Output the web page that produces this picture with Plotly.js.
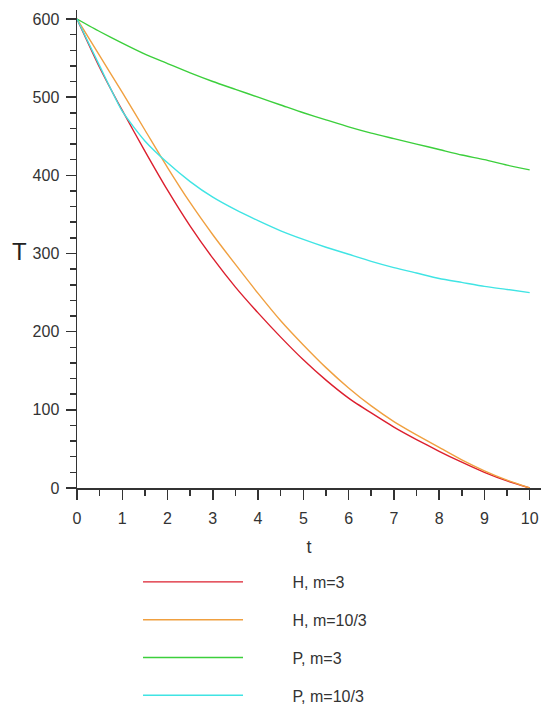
<!DOCTYPE html>
<html>
<head>
<meta charset="utf-8">
<script src="https://cdn.plot.ly/plotly-3.0.1.min.js"></script>
<style>html,body{margin:0;padding:0;background:#fff;}#chart{width:542px;height:713px;}</style>
</head>
<body>
<div id="chart"></div>
<script>
var tValues = [0, 0.5, 1, 1.5, 2, 2.5, 3, 3.5, 4, 4.5, 5, 5.5, 6, 6.5, 7, 7.5, 8, 8.5, 9, 9.5, 10];
var seriesNames = ['H, m=3', 'H, m=10/3', 'P, m=3', 'P, m=10/3'];
var H_m3   = [600, 538, 483, 431, 381, 335, 294, 257, 224, 193, 164, 138, 115, 96, 78, 62, 47, 33, 20, 9, 0];
var H_m103 = [600, 553, 506, 458, 410, 365, 324, 286, 249, 214, 183, 154, 128, 105, 85, 68, 52, 36, 22, 10, 0];
var P_m3   = [600, 584, 569, 555, 543, 531, 520, 510, 500, 490, 480, 471, 462, 454, 447, 440, 433, 426, 420, 413, 407];
var P_m103 = [600, 540, 482, 444, 416, 392, 372, 356, 342, 329, 318, 308, 299, 290, 282, 275, 268, 263, 258, 254, 250];
var seriesColors = ['#dc1f2e', '#f0a040', '#3ccf3c', '#40e4e4'];
var xTicks = [0,1,2,3,4,5,6,7,8,9,10];
var yTicks = [0,100,200,300,400,500,600];

var pad = '\u00a0\u00a0\u00a0\u00a0\u00a0\u00a0\u00a0\u00a0\u00a0\u00a0';
var ys = [H_m3, H_m103, P_m3, P_m103];
var traces = ys.map(function(y, i){
  return {x: tValues, y: y, type: 'scatter', mode: 'lines', name: pad + seriesNames[i],
    legendgroup: 'g' + i, line: {color: seriesColors[i], width: 1.4, shape: 'spline', smoothing: 0.6}};
});

var axFont = {family: 'Liberation Sans, Arial, sans-serif', size: 16, color: '#333'};
var layout = {
  width: 542, height: 713,
  margin: {l: 77, r: 1, t: 10, b: 224},
  paper_bgcolor: '#fff', plot_bgcolor: '#fff',
  showlegend: true,
  legend: {xref: 'paper', yref: 'paper', x: 0.1315, y: -0.160, xanchor: 'left', yanchor: 'top',
    font: {family: 'Liberation Sans, Arial, sans-serif', size: 16, color: '#333'},
    traceorder: 'grouped', tracegroupgap: 14, itemwidth: 100, bgcolor: 'rgba(0,0,0,0)'},
  xaxis: {range: [0, 10.25], tickvals: xTicks, ticktext: xTicks.map(String), ticks: 'outside', ticklen: 10,
    tickwidth: 1.5, tickcolor: '#333', showline: true, linecolor: '#333', linewidth: 1.5, showgrid: false,
    zeroline: false, tickfont: axFont, ticklabelstandoff: 5,
    minor: {dtick: 0.5, tick0: 0, ticks: 'outside', ticklen: 6, tickwidth: 1.5, tickcolor: '#333'},
    title: {text: 't', font: {family: 'Liberation Sans, Arial, sans-serif', size: 18, color: '#333'}, standoff: 14}},
  yaxis: {range: [0, 611.5], tickvals: yTicks, ticktext: yTicks.map(String), ticks: 'outside', ticklen: 10,
    tickwidth: 1.5, tickcolor: '#333', showline: true, linecolor: '#333', linewidth: 1.5, showgrid: false,
    zeroline: false, tickfont: axFont, ticklabelstandoff: 3,
    minor: {dtick: 20, tick0: 0, ticks: 'outside', ticklen: 6, tickwidth: 1.5, tickcolor: '#333'}},
  annotations: [{text: 'T', xref: 'paper', yref: 'paper', x: -0.125, y: 0.495, showarrow: false,
    xanchor: 'center', yanchor: 'middle', font: {family: 'Liberation Sans, Arial, sans-serif', size: 24, color: '#222'}}]
};
Plotly.newPlot('chart', traces, layout, {displayModeBar: false, staticPlot: true});
</script>
</body>
</html>
